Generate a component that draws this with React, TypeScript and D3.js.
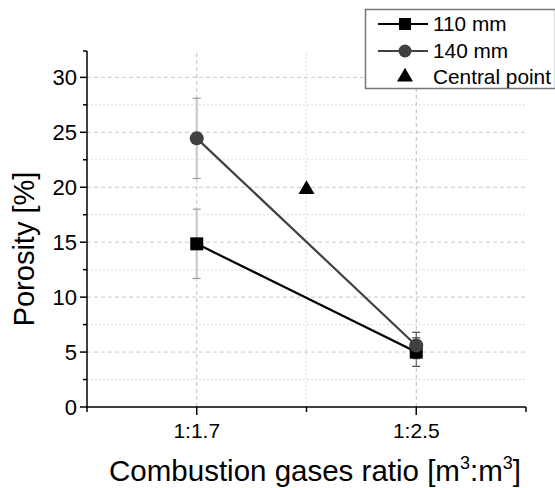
import React, { useEffect, useRef } from 'react';
import * as d3 from 'd3';

const categories = ['1:1.7', '1:2.5'];
const series110 = [14.85, 5.0];
const err110 = [3.15, 1.3];
const series140 = [24.45, 5.6];
const err140 = [3.65, 1.2];
const centralPoint = [19.8];
const yTicks = [0, 5, 10, 15, 20, 25, 30];

const FONT = '"Liberation Sans", Arial, sans-serif';

const App = () => {
  const ref = useRef<SVGSVGElement>(null);

  useEffect(() => {
    const svg = d3.select(ref.current);
    svg.selectAll('*').remove();

    const width = 555;
    const height = 488;
    const margin = { top: 51, right: 29, bottom: 81, left: 87 };

    // category index 1, 2 on a linear scale, with half a step of padding
    const x = d3
      .scaleLinear()
      .domain([0.5, categories.length + 0.5])
      .range([margin.left, width - margin.right]);
    const y = d3
      .scaleLinear()
      .domain([0, 32.4])
      .range([height - margin.bottom, margin.top]);

    const x0 = x.range()[0];
    const x1 = x.range()[1];
    const y0 = y.range()[0];
    const y1 = y.range()[1];

    // grid
    const grid = svg.append('g');
    const minorY = d3.range(2.5, 32.4, 5);
    grid
      .selectAll('.minor-y')
      .data(minorY)
      .enter()
      .append('line')
      .attr('x1', x0)
      .attr('x2', x1)
      .attr('y1', d => y(d))
      .attr('y2', d => y(d))
      .attr('stroke', '#dcdcdc')
      .attr('stroke-width', 1)
      .attr('stroke-dasharray', '2,2');
    grid
      .selectAll('.major-y')
      .data(yTicks.slice(1))
      .enter()
      .append('line')
      .attr('x1', x0)
      .attr('x2', x1)
      .attr('y1', d => y(d))
      .attr('y2', d => y(d))
      .attr('stroke', '#c8c8c8')
      .attr('stroke-width', 1)
      .attr('stroke-dasharray', '4,3');
    grid
      .append('line')
      .attr('x1', x(1.5))
      .attr('x2', x(1.5))
      .attr('y1', y0)
      .attr('y2', y1)
      .attr('stroke', '#dcdcdc')
      .attr('stroke-width', 1)
      .attr('stroke-dasharray', '2,2');
    grid
      .selectAll('.major-x')
      .data(categories)
      .enter()
      .append('line')
      .attr('x1', (d, i) => x(i + 1))
      .attr('x2', (d, i) => x(i + 1))
      .attr('y1', y0)
      .attr('y2', y1)
      .attr('stroke', '#bdbdbd')
      .attr('stroke-width', 1)
      .attr('stroke-dasharray', '4,3');

    // error bars
    const drawErrors = (vals: number[], errs: number[]) => {
      vals.forEach((v, i) => {
        const cx = x(i + 1);
        svg
          .append('line')
          .attr('x1', cx)
          .attr('x2', cx)
          .attr('y1', y(v - errs[i]))
          .attr('y2', y(v + errs[i]))
          .attr('stroke', i === 0 ? '#cfcfcf' : '#555')
          .attr('stroke-width', i === 0 ? 2.5 : 1);
        [v - errs[i], v + errs[i]].forEach(e => {
          svg
            .append('line')
            .attr('x1', cx - 4)
            .attr('x2', cx + 4)
            .attr('y1', y(e))
            .attr('y2', y(e))
            .attr('stroke', i === 0 ? '#999' : '#444')
            .attr('stroke-width', 1.2);
        });
      });
    };
    drawErrors(series110, err110);
    drawErrors(series140, err140);

    const line = d3
      .line<number>()
      .x((d, i) => x(i + 1))
      .y(d => y(d));

    // 110 mm
    svg
      .append('path')
      .datum(series110)
      .attr('fill', 'none')
      .attr('stroke', '#000')
      .attr('stroke-width', 2.2)
      .attr('d', line);
    svg
      .selectAll('.sq')
      .data(series110)
      .enter()
      .append('rect')
      .attr('x', (d, i) => x(i + 1) - 6.5)
      .attr('y', d => y(d) - 6.5)
      .attr('width', 13)
      .attr('height', 13)
      .attr('fill', '#000');

    // 140 mm
    svg
      .append('path')
      .datum(series140)
      .attr('fill', 'none')
      .attr('stroke', '#404040')
      .attr('stroke-width', 2.2)
      .attr('d', line);
    svg
      .selectAll('.ci')
      .data(series140)
      .enter()
      .append('circle')
      .attr('cx', (d, i) => x(i + 1))
      .attr('cy', d => y(d))
      .attr('r', 7)
      .attr('fill', '#404040');

    // central point
    const tri = d3.symbol().type(d3.symbolTriangle).size(110);
    svg
      .selectAll('.tri')
      .data(centralPoint)
      .enter()
      .append('path')
      .attr('d', tri)
      .attr('transform', d => 'translate(' + x(1.5) + ',' + y(d) + ')')
      .attr('fill', '#000');

    // axes
    const axes = svg.append('g').attr('stroke', '#000').attr('stroke-width', 1.5);
    axes.append('line').attr('x1', x0).attr('x2', x0).attr('y1', y0 + 0.75).attr('y2', y1);
    axes.append('line').attr('x1', x0).attr('x2', x1).attr('y1', y0).attr('y2', y0);
    yTicks.forEach(t => {
      axes.append('line').attr('x1', x0 - 7).attr('x2', x0).attr('y1', y(t)).attr('y2', y(t));
    });
    minorY.forEach(t => {
      axes.append('line').attr('x1', x0 - 4).attr('x2', x0).attr('y1', y(t)).attr('y2', y(t));
    });
    axes.append('line').attr('x1', x0 - 4).attr('x2', x0).attr('y1', y1).attr('y2', y1);
    categories.forEach((c, i) => {
      axes.append('line').attr('x1', x(i + 1)).attr('x2', x(i + 1)).attr('y1', y0).attr('y2', y0 + 8);
    });
    [0.5, 1.5, 2.5].forEach(t => {
      axes.append('line').attr('x1', x(t)).attr('x2', x(t)).attr('y1', y0).attr('y2', y0 + 5);
    });

    svg
      .selectAll('.ytl')
      .data(yTicks)
      .enter()
      .append('text')
      .attr('x', x0 - 10)
      .attr('y', d => y(d))
      .attr('dy', '0.36em')
      .attr('text-anchor', 'end')
      .attr('font-family', FONT)
      .attr('font-size', 22)
      .attr('fill', '#000')
      .text(d => d);

    svg
      .selectAll('.xtl')
      .data(categories)
      .enter()
      .append('text')
      .attr('x', (d, i) => x(i + 1))
      .attr('y', 438)
      .attr('text-anchor', 'middle')
      .attr('font-family', FONT)
      .attr('font-size', 21)
      .attr('fill', '#000')
      .text(d => d);

    // axis titles
    svg
      .append('text')
      .attr('transform', 'translate(34,249) rotate(-90)')
      .attr('text-anchor', 'middle')
      .attr('font-family', FONT)
      .attr('font-size', 29)
      .attr('fill', '#000')
      .text('Porosity [%]');

    const xt = svg
      .append('text')
      .attr('x', 315)
      .attr('y', 481)
      .attr('text-anchor', 'middle')
      .attr('font-family', FONT)
      .attr('font-size', 29.5)
      .attr('fill', '#000');
    xt.append('tspan').text('Combustion gases ratio [m');
    xt.append('tspan').attr('font-size', 18).attr('dy', -12).text('3');
    xt.append('tspan').attr('dy', 12).text(':m');
    xt.append('tspan').attr('font-size', 18).attr('dy', -12).text('3');
    xt.append('tspan').attr('dy', 12).text(']');

    // legend
    const lg = svg.append('g');
    lg.append('rect')
      .attr('x', 365.5)
      .attr('y', 9.5)
      .attr('width', 190)
      .attr('height', 79)
      .attr('fill', '#fff')
      .attr('stroke', '#777')
      .attr('stroke-width', 1.5);
    const rows = [
      { label: '110 mm', y: 24, color: '#000', kind: 'square' },
      { label: '140 mm', y: 51, color: '#404040', kind: 'circle' },
      { label: 'Central point', y: 77, color: '#000', kind: 'triangle' },
    ];
    rows.forEach(r => {
      if (r.kind !== 'triangle') {
        lg.append('line')
          .attr('x1', 378)
          .attr('x2', 428)
          .attr('y1', r.y)
          .attr('y2', r.y)
          .attr('stroke', r.color)
          .attr('stroke-width', 2.2);
      }
      if (r.kind === 'square') {
        lg.append('rect').attr('x', 399).attr('y', r.y - 6).attr('width', 12).attr('height', 12).attr('fill', r.color);
      } else if (r.kind === 'circle') {
        lg.append('circle').attr('cx', 405).attr('cy', r.y).attr('r', 6.5).attr('fill', r.color);
      } else {
        lg.append('path').attr('d', tri).attr('transform', 'translate(405,' + r.y + ')').attr('fill', r.color);
      }
      lg.append('text')
        .attr('x', 433)
        .attr('y', r.y)
        .attr('dy', '0.36em')
        .attr('font-family', FONT)
        .attr('font-size', 20.8)
        .attr('fill', '#000')
        .text(r.label);
    });
  }, []);

  return (
    <div style={{ position: 'absolute', left: 0, top: 0 }}>
      <svg ref={ref} width={555} height={488} style={{ display: 'block', background: '#fff' }} />
    </div>
  );
};

export default App;
